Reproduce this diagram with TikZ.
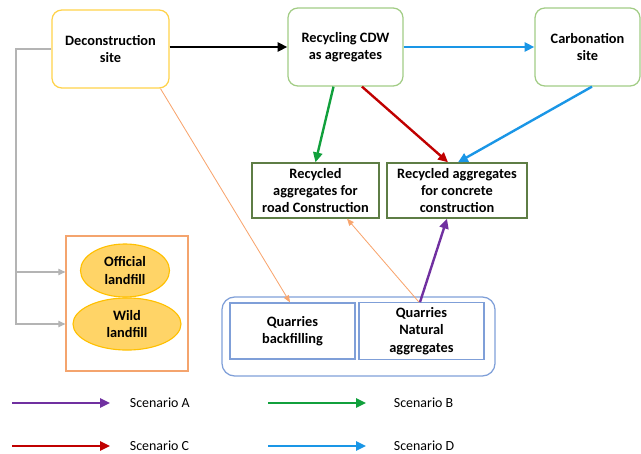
\documentclass[tikz,border=0pt]{standalone}
\usepackage{fontspec}
\setmainfont{Carlito}
\usetikzlibrary{arrows.meta,calc,shapes.geometric}

\definecolor{siteyellow}{HTML}{FFD24A}
\definecolor{sitegreen}{HTML}{A2CC85}
\definecolor{boxgreen}{HTML}{5E7D45}
\definecolor{frameorange}{HTML}{F4A46E}
\definecolor{fillgold}{HTML}{FFD467}
\definecolor{linegold}{HTML}{FFC000}
\definecolor{quarryblue}{HTML}{7F9FD8}
\definecolor{scenA}{HTML}{7030A0}
\definecolor{scenB}{HTML}{11A03C}
\definecolor{scenC}{HTML}{C00000}
\definecolor{scenD}{HTML}{1A96E6}
\definecolor{thinorange}{HTML}{F8A56E}
\definecolor{linkgray}{HTML}{B4B4B4}

\tikzset{
  txt/.style={font=\bfseries\fontsize{10.2}{12.3}\selectfont, align=center},
  site/.style={txt, draw, rounded corners=7pt, line width=0.9pt,
    minimum height=1.95cm},
  target/.style={txt, draw=boxgreen, line width=1pt, minimum height=1.375cm},
  quarrybox/.style={txt, draw=quarryblue, line width=0.9pt,
    minimum width=3.125cm, minimum height=1.4cm},
  landfill/.style={txt, ellipse, draw=linegold, fill=fillgold, line width=0.8pt},
  flow/.style={line width=1.7pt, -{Triangle[length=7pt,width=6.5pt]}},
  thinflow/.style={thinorange, line width=0.6pt, -{Triangle[length=5pt,width=4pt]}},
  graylink/.style={linkgray, line width=0.8pt, -{Triangle[length=5pt,width=4.5pt]}},
  legend/.style={font=\fontsize{9.9}{12}\selectfont, anchor=west}
}

\begin{document}
\begin{tikzpicture}[x=0.025cm, y=-0.025cm]
\useasboundingbox (0,0) rectangle (641,454);

% Sites along the top
\node[site, draw=siteyellow, minimum width=2.925cm] (decon) at (110.5,49) {Deconstruction\\site};
\node[site, draw=sitegreen, minimum width=2.875cm] (recyc) at (345.5,47) {Recycling CDW\\as agregates};
\node[site, draw=sitegreen, minimum width=2.625cm] (carb) at (587.5,47) {Carbonation\\site};

% Uses of the recycled aggregates
\node[target, minimum width=3.175cm] (road) at (315.5,190.5) {Recycled\\aggregates for\\road Construction};
\node[target, minimum width=3.5cm] (concr) at (457,190.5) {Recycled aggregates\\for concrete\\construction};

% Landfills
\node[draw=frameorange, line width=0.8pt, minimum width=3.05cm, minimum height=3.375cm] (frame) at (127,303.5) {};
\node[landfill, minimum width=2.225cm, minimum height=1.325cm] (official) at (125,270.5) {Official\\landfill};
\node[landfill, minimum width=2.7cm, minimum height=1cm] (wild) at (127,324) {Wild\\landfill};

% Quarries
\node[draw=quarryblue, line width=0.9pt, rounded corners=9pt, minimum width=6.825cm, minimum height=1.975cm] (quarry) at (358.5,336.5) {};
\node[quarrybox] (backfill) at (292.5,331) {Quarries\\backfilling};
\node[quarrybox] (natural) at (421.5,331) {Quarries\\Natural\\aggregates};

% Main flows
\draw[flow, black] (decon.east |- recyc.west) -- (recyc.west);
\draw[flow, scenD] (recyc.east) -- (carb.west);
\draw[flow, scenB] ($(recyc.south)+(-12,0)$) -- (road.north);
\draw[flow, scenC] ($(recyc.south)+(16.5,0)$) -- ($(concr.north)+(-9,0)$);
\draw[flow, scenD] ($(carb.south)+(4.5,0)$) -- ($(concr.north)+(1,0)$);
\draw[flow, scenA] ($(natural.north)+(-1.5,0)$) -- ($(concr.south)+(-10,0)$);

% Thin orange links
\draw[thinflow] ($(decon.south)+(50,0)$) -- ($(backfill.north)+(-2.5,0)$);
\draw[thinflow] ($(natural.north)+(-2.5,0)$) -- ($(road.south)+(31.5,0)$);

% Gray links to the landfills
\coordinate (g1) at (16,272);
\coordinate (g2) at (16,324);
\draw[graylink] (decon.west) -| (g2) -- (g2 -| frame.west);
\draw[graylink] (g1) -- (g1 -| frame.west);

% Legend
\coordinate (la) at (12,403);  \coordinate (la2) at (110,403);
\coordinate (lb) at (268,403); \coordinate (lb2) at (366,403);
\coordinate (lc) at (12,446);  \coordinate (lc2) at (110,446);
\coordinate (ld) at (268,446); \coordinate (ld2) at (366,446);
\node[legend] (txta) at (125,403) {Scenario A};
\node[legend] (txtb) at (389,403) {Scenario B};
\node[legend] (txtc) at (125,446) {Scenario C};
\node[legend] (txtd) at (389,446) {Scenario D};
\draw[flow, scenA, line width=1.5pt] (la) -- (la2);
\draw[flow, scenB, line width=1.5pt] (lb) -- (lb2);
\draw[flow, scenC, line width=1.5pt] (lc) -- (lc2);
\draw[flow, scenD, line width=1.5pt] (ld) -- (ld2);

\end{tikzpicture}
\end{document}
